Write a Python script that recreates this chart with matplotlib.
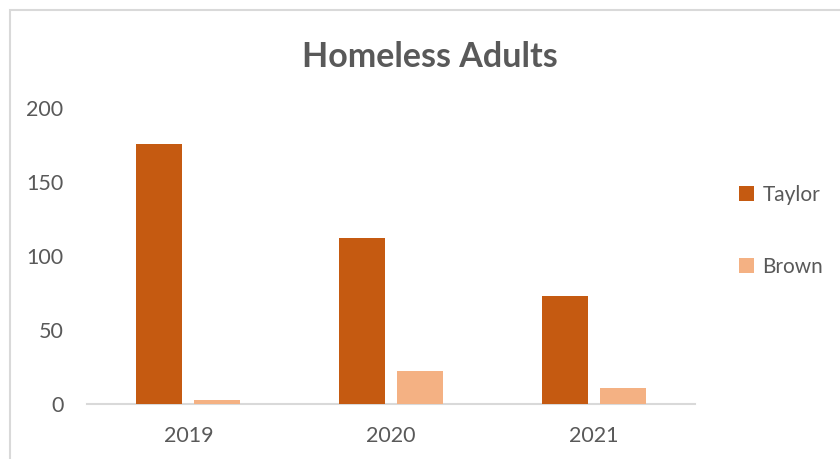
import numpy as np
import matplotlib.pyplot as plt
from matplotlib.patches import Rectangle

plt.rcParams['font.family'] = ['Lato', 'DejaVu Sans']

years = ['2019', '2020', '2021']
taylor = [176, 112, 73]
brown = [3, 22, 11]

text_grey = '#595959'
c_taylor = '#C55A11'
c_brown = '#F4B183'

fig = plt.figure(figsize=(8.4, 4.59), dpi=100)
ax = fig.add_axes([87 / 840, 55 / 459, 608 / 840, 296 / 459])

x = np.arange(len(years))
w = 0.227
ax.bar(x - 0.143, taylor, width=w, color=c_taylor, label='Taylor', zorder=3)
ax.bar(x + 0.143, brown, width=w, color=c_brown, label='Brown', zorder=3)

ax.set_xlim(-0.5, 2.5)
ax.set_ylim(0, 200)
ax.set_yticks([0, 50, 100, 150, 200])
ax.set_xticks(x)
ax.set_xticklabels(years)
ax.tick_params(axis='both', length=0, labelsize=15.5, colors=text_grey)
ax.tick_params(axis='y', pad=17)
ax.tick_params(axis='x', pad=16)
for side in ['top', 'right', 'left']:
    ax.spines[side].set_visible(False)
ax.spines['bottom'].set_color('#D9D9D9')
ax.spines['bottom'].set_linewidth(1.5)

fig.text(430 / 840, 1 - 57 / 459, 'Homeless Adults', ha='center', va='center',
         fontsize=24.5, fontweight='bold', color=text_grey)

leg = ax.legend(loc='center left', bbox_to_anchor=(729 / 840, 1 - 231 / 459),
                bbox_transform=fig.transFigure, frameon=False, fontsize=15,
                handlelength=0.7, handleheight=0.7, handletextpad=0.4,
                labelspacing=2.5, borderpad=0)
for t in leg.get_texts():
    t.set_color(text_grey)

# outer chart frame, running off the right and bottom edges
fig.patches.append(Rectangle((10 / 840, -0.1), 1.0, 1 - 10 / 459 + 0.1,
                             transform=fig.transFigure, fill=False,
                             edgecolor='#D9D9D9', linewidth=1.5))

fig.savefig('out.png', dpi=100, facecolor='white')
